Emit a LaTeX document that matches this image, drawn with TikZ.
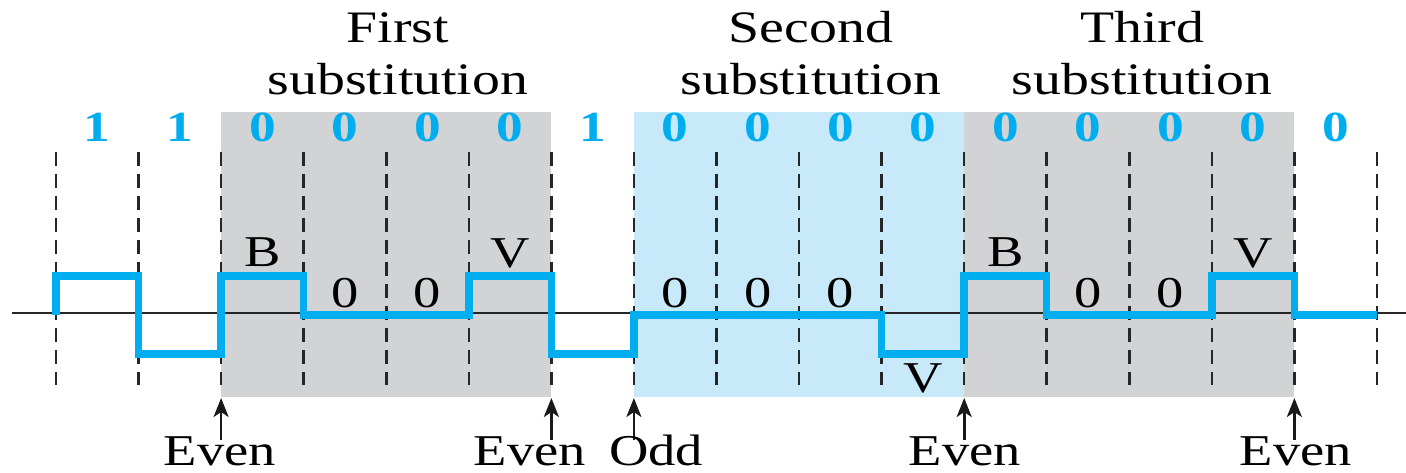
\documentclass[tikz,border=0pt]{standalone}
\usepackage{fontspec}
\setmainfont{Liberation Serif}
\usetikzlibrary{arrows.meta}
\definecolor{sigblue}{HTML}{00AEEF}
\definecolor{subgray}{HTML}{D1D3D4}
\definecolor{sublight}{HTML}{C8E9F9}
\newcommand{\widetxt}[1]{\scalebox{1.24}[1]{#1}}
\begin{document}
\begin{tikzpicture}[x=1pt,y=-1pt,
  titletext/.style={font=\fontsize{45}{52}\selectfont, inner sep=0pt, anchor=base},
  bitlbl/.style={font=\fontsize{43}{50}\selectfont\bfseries, text=sigblue, inner sep=0pt, anchor=base},
  lvllbl/.style={font=\fontsize{44}{50}\selectfont, inner sep=0pt, anchor=base},
  gridline/.style={black!85, line width=2.6pt, dash pattern=on 14pt off 8pt},
  axisline/.style={black!85, line width=2pt},
  sig/.style={sigblue, line width=7.5pt, line join=miter},
  marker/.style={-{Stealth[length=19pt,width=15pt,inset=5pt]}, line width=2.6pt, black!90}
]
\useasboundingbox (0,0) rectangle (1406,473);
\fill[white] (0,0) rectangle (1406,473);

% substitution backgrounds
\fill[subgray] (221.1,112) rectangle (551.4,397);
\fill[sublight] (633.9,112) rectangle (964.2,397);
\fill[subgray] (964.2,112) rectangle (1294.4,397);

% dashed bit boundaries
\foreach \i in {0,...,16} {
  \pgfmathsetmacro\xx{56+82.5625*\i}
  \draw[gridline] (\xx,152) -- (\xx,385);
}

% axis
\coordinate (axL) at (12,313);
\coordinate (axR) at (1406,313);
\draw[axisline] (axL) -- (axR);

% signal
\draw[sig] (56,315) -- (56,276) -- (138.6,276) -- (138.6,354) -- (221.1,354)
  -- (221.1,276) -- (303.7,276) -- (303.7,315) -- (468.8,315) -- (468.8,276)
  -- (551.4,276) -- (551.4,354) -- (633.9,354) -- (633.9,315) -- (881.6,315)
  -- (881.6,354) -- (964.2,354) -- (964.2,276) -- (1046.7,276) -- (1046.7,315)
  -- (1211.8,315) -- (1211.8,276) -- (1294.4,276) -- (1294.4,315) -- (1377,315);

% bit labels
\foreach \i/\b in {0/1,1/1,2/0,3/0,4/0,5/0,6/1,7/0,8/0,9/0,10/0,11/0,12/0,13/0,14/0,15/0} {
  \pgfmathsetmacro\xx{56+82.5625*(\i+0.5)}
  \node[bitlbl] (bit\i) at (\xx,142) {\widetxt{\b}};
}

% titles
\node[titletext] (t1a) at (398,43) {\widetxt{First}};
\node[titletext] (t1b) at (398,95) {\widetxt{substitution}};
\node[titletext] (t2a) at (811,43) {\widetxt{Second}};
\node[titletext] (t2b) at (811,95) {\widetxt{substitution}};
\node[titletext] (t3a) at (1142,43) {\widetxt{Third}};
\node[titletext] (t3b) at (1142,95) {\widetxt{substitution}};

% level labels
\node[lvllbl] (l2) at (262.4,267) {\widetxt{B}};
\node[lvllbl] (l3) at (345,307) {\widetxt{0}};
\node[lvllbl] (l4) at (427.5,307) {\widetxt{0}};
\node[lvllbl] (l5) at (510.1,268) {\widetxt{V}};
\node[lvllbl] (l7) at (675.2,307) {\widetxt{0}};
\node[lvllbl] (l8) at (757.8,307) {\widetxt{0}};
\node[lvllbl] (l9) at (840.3,307) {\widetxt{0}};
\node[lvllbl] (l10) at (922.9,392) {\widetxt{V}};
\node[lvllbl] (l11) at (1005.5,267) {\widetxt{B}};
\node[lvllbl] (l12) at (1088,307) {\widetxt{0}};
\node[lvllbl] (l13) at (1170.6,307) {\widetxt{0}};
\node[lvllbl] (l14) at (1253.1,268) {\widetxt{V}};

% parity markers
\foreach \n/\xx in {1/221.1,2/551.4,3/633.9,4/964.2,5/1294.4} {
  \coordinate (ms\n) at (\xx,440);
  \coordinate (me\n) at (\xx,398);
  \draw[marker] (ms\n) -- (me\n);
}
\node[lvllbl] (p1) at (220,465) {\widetxt{Even}};
\node[lvllbl] (p2) at (530,465) {\widetxt{Even}};
\node[lvllbl] (p3) at (656,465) {\widetxt{Odd}};
\node[lvllbl] (p4) at (965,465) {\widetxt{Even}};
\node[lvllbl] (p5) at (1296,465) {\widetxt{Even}};
\end{tikzpicture}
\end{document}
